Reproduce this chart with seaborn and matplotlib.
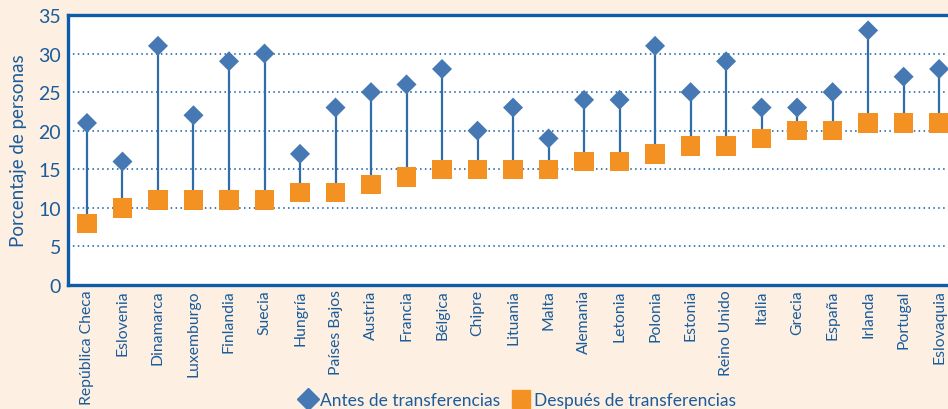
import matplotlib
matplotlib.use("Agg")
import matplotlib.pyplot as plt
import seaborn as sns
import numpy as np
import pandas as pd
from matplotlib.lines import Line2D

# data
countries = ["República Checa", "Eslovenia", "Dinamarca", "Luxemburgo", "Finlandia",
             "Suecia", "Hungría", "Países Bajos", "Austria", "Francia", "Bélgica",
             "Chipre", "Lituania", "Malta", "Alemania", "Letonia", "Polonia", "Estonia",
             "Reino Unido", "Italia", "Grecia", "España", "Irlanda", "Portugal", "Eslovaquia"]
antes = [21, 16, 31, 22, 29, 30, 17, 23, 25, 26, 28, 20, 23, 19, 24, 24, 31, 25,
         29, 23, 23, 25, 33, 27, 28]
despues = [8, 10, 11, 11, 11, 11, 12, 12, 13, 14, 15, 15, 15, 15, 16, 16, 17, 18,
           18, 19, 20, 20, 21, 21, 21]
y_ticks = [0, 5, 10, 15, 20, 25, 30, 35]

df = pd.DataFrame({"pais": countries, "antes": antes, "despues": despues})
df["pos"] = np.arange(len(df))

bg = "#FDF0E2"
blue_txt = "#1A5C9C"
spine_c = "#0F5CA6"
diam_c = "#4679B3"
sq_c = "#F39222"
stem_c = "#2F6CA8"

sns.set_theme(style="white")
plt.rcParams["font.family"] = ["Lato", "DejaVu Sans"]

fig = plt.figure(figsize=(9.48, 4.10), dpi=100, facecolor=bg)
ax = fig.add_axes([0.0717, 0.3024, 0.9283, 0.6586])
ax.set_facecolor("white")

# stems between the two values
ax.vlines(df["pos"], df["despues"], df["antes"], color=stem_c, lw=1.6, zorder=2)

sns.scatterplot(data=df, x="pos", y="antes", marker="D", s=104, color=diam_c,
                edgecolor="none", ax=ax, zorder=3)
sns.scatterplot(data=df, x="pos", y="despues", marker="s", s=195, color=sq_c,
                edgecolor="none", ax=ax, zorder=4)

ax.set_xlim(-0.535, 24.25)
ax.set_ylim(0, 35)
ax.set_yticks(y_ticks)
ax.set_yticklabels([str(t) for t in y_ticks], fontsize=14, color=blue_txt)
ax.set_xticks(df["pos"])
ax.set_xticklabels(df["pais"], rotation=90, fontsize=11.3, color=blue_txt,
                   va="top", ha="center")
ax.tick_params(axis="both", length=0)
ax.tick_params(axis="y", pad=5)
ax.tick_params(axis="x", pad=3)

for t in y_ticks[1:-1]:
    ax.axhline(t, color=spine_c, lw=1.1, ls=(0, (1, 2.2)), zorder=1)

for side in ["left", "top", "bottom"]:
    ax.spines[side].set_color(spine_c)
    ax.spines[side].set_linewidth(2.4)
ax.spines["right"].set_visible(False)

ax.set_xlabel("")
ax.set_ylabel("Porcentaje de personas", fontsize=13.5, color=blue_txt, labelpad=8)

handles = [Line2D([], [], marker="D", ls="none", color=diam_c, markersize=11),
           Line2D([], [], marker="s", ls="none", color=sq_c, markersize=13)]
fig.legend(handles, ["Antes de transferencias", "Después de transferencias"],
           loc="lower center", bbox_to_anchor=(0.545, -0.035), ncol=2, frameon=False,
           fontsize=12.5, labelcolor=blue_txt, handletextpad=0.1, columnspacing=0.6,
           handlelength=1.2)

fig.savefig("out.png", dpi=100, facecolor=bg)
